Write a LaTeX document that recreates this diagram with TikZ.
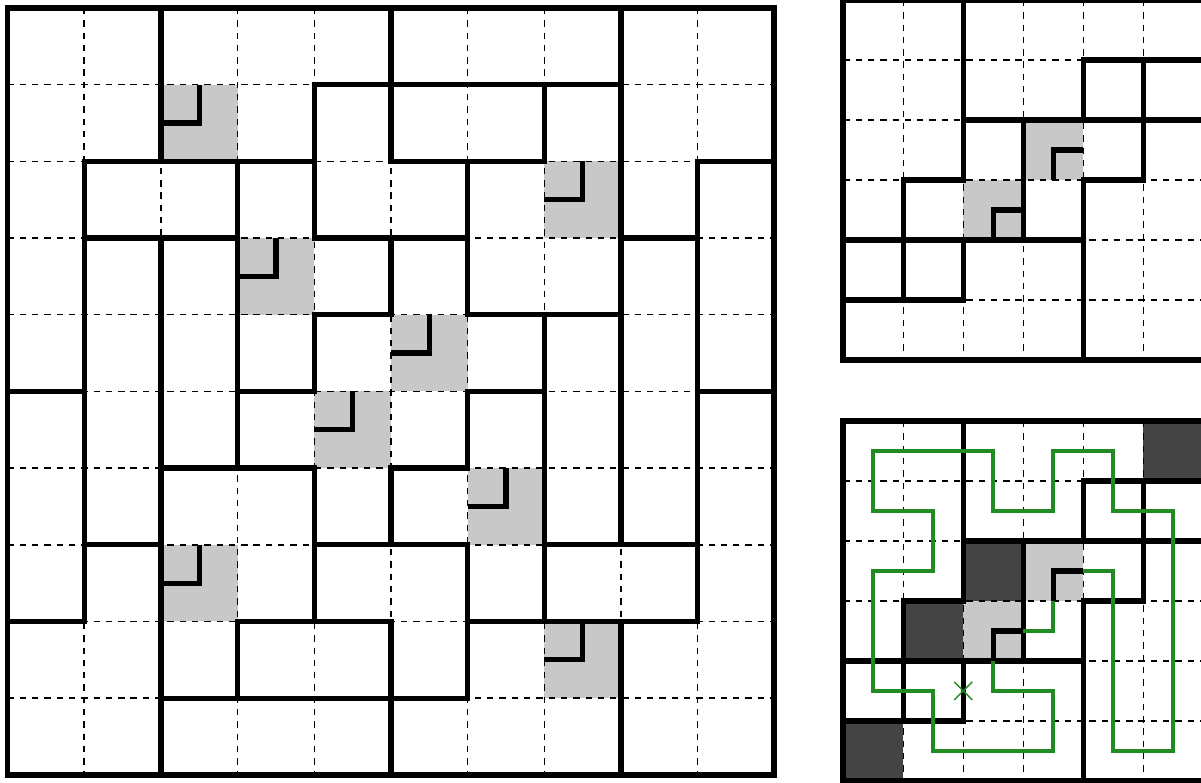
\documentclass[tikz,border=0pt]{standalone}
\usepackage{tikz}
\definecolor{mshade}{HTML}{C8C8C8}
\definecolor{mdark}{HTML}{444444}
\definecolor{mgreen}{HTML}{228B22}

% the 6x6 maze of the right-hand pictures
\newcommand{\smallmaze}{%
  \foreach \c/\r in {3/2,2/3} \fill[mshade] (\c,\r) rectangle ++(1,1);
  \foreach \c in {1,...,5} {
    \draw[gridline] (\c,0) -- (\c,6);
    \draw[gridline] (0,\c) -- (6.3,\c);
  }
  \foreach \xa/\ya/\xb/\yb in {1/3/1/5, 2/0/2/3, 2/4/2/5, 3/2/3/4, 4/1/4/2, 4/3/4/6, 5/1/5/3,
      4/1/6.3/1, 2/2/6.3/2, 1/3/2/3, 4/3/5/3, 0/4/4/4, 0/5/2/5}
    \draw[wall] (\xa,\ya) -- (\xb,\yb);
  \draw[rim] (6.3,0) -- (0,0) -- (0,6) -- (6.3,6);
  \foreach \c/\r in {3/2,2/3} \draw[cornermark] (\c+0.5,\r+1) |- (\c+1,\r+0.5);
}

\begin{document}
\begin{tikzpicture}[x=0.02cm,y=-0.02cm,
  gridline/.style={black,line width=0.8pt,dash pattern=on 3.6pt off 3.4pt},
  wall/.style={black,line width=3pt,line cap=rect},
  rim/.style={black,line width=3.4pt,line join=miter},
  cornermark/.style={black,line width=3pt},
  loop/.style={mgreen,line width=2.2pt}]
  \useasboundingbox (0,0) rectangle (1201,782);
  \clip (0,0) rectangle (1201,782);

  % big maze
  \begin{scope}[shift={(7.5,8)},x=1.534cm,y=-1.534cm]
    \foreach \c/\r in {2/1,7/2,3/3,5/4,4/5,6/6,2/7,7/8} \fill[mshade] (\c,\r) rectangle ++(1,1);
    \foreach \c in {1,...,9} {
      \draw[gridline] (\c,0) -- (\c,10);
      \draw[gridline] (0,\c) -- (10,\c);
    }
    % vertical walls
    \foreach \xa/\ya/\xb/\yb in {1/2/1/8, 2/0/2/2, 2/3/2/10, 3/2/3/6, 3/8/3/9, 4/1/4/3, 4/4/4/5,
        4/6/4/8, 5/0/5/2, 5/3/5/4, 5/6/5/7, 5/8/5/10, 6/2/6/4, 6/5/6/6, 6/7/6/9, 7/1/7/2,
        7/4/7/8, 8/0/8/7, 8/8/8/10, 9/2/9/8}
      \draw[wall] (\xa,\ya) -- (\xb,\yb);
    % horizontal walls
    \foreach \xa/\ya/\xb/\yb in {4/1/8/1, 1/2/4/2, 5/2/7/2, 9/2/10/2, 1/3/3/3, 4/3/6/3, 8/3/9/3,
        4/4/5/4, 6/4/8/4, 0/5/1/5, 3/5/4/5, 6/5/7/5, 9/5/10/5, 2/6/4/6, 5/6/6/6, 1/7/2/7,
        4/7/6/7, 7/7/9/7, 0/8/1/8, 3/8/5/8, 6/8/9/8, 2/9/6/9}
      \draw[wall] (\xa,\ya) -- (\xb,\yb);
    \draw[rim] (0,0) rectangle (10,10);
    \foreach \c/\r in {2/1,7/2,3/3,5/4,4/5,6/6,2/7,7/8} \draw[cornermark] (\c+0.5,\r) |- (\c,\r+0.5);
  \end{scope}

  % small maze, top
  \begin{scope}[shift={(843.3,0)},x=1.2cm,y=-1.2cm]
    \smallmaze
  \end{scope}

  % small maze, bottom, with blocked cells and the loop
  \begin{scope}[shift={(843.3,421)},x=1.2cm,y=-1.2cm]
    \foreach \c/\r in {5/0,2/2,1/3,0/5} \fill[mdark] (\c,\r) rectangle ++(1,1);
    \fill[mdark] (6,0) rectangle (6.3,1);
    \smallmaze
    \draw[loop] (2.5,4) -- (2.5,4.5) -- (3.5,4.5) -- (3.5,5.5) -- (1.5,5.5) -- (1.5,4.5)
      -- (0.5,4.5) -- (0.5,2.5) -- (1.5,2.5) -- (1.5,1.5) -- (0.5,1.5) -- (0.5,0.5)
      -- (2.5,0.5) -- (2.5,1.5) -- (3.5,1.5) -- (3.5,0.5) -- (4.5,0.5) -- (4.5,1.5)
      -- (5.5,1.5) -- (5.5,5.5) -- (4.5,5.5) -- (4.5,2.5) -- (4,2.5);
    \draw[loop] (3.5,3) -- (3.5,3.5) -- (3,3.5);
    \draw[mgreen,line width=0.8pt] (2,4.5) +(-0.15,-0.15) -- +(0.15,0.15)
      +(-0.15,0.15) -- +(0.15,-0.15);
  \end{scope}
\end{tikzpicture}
\end{document}
